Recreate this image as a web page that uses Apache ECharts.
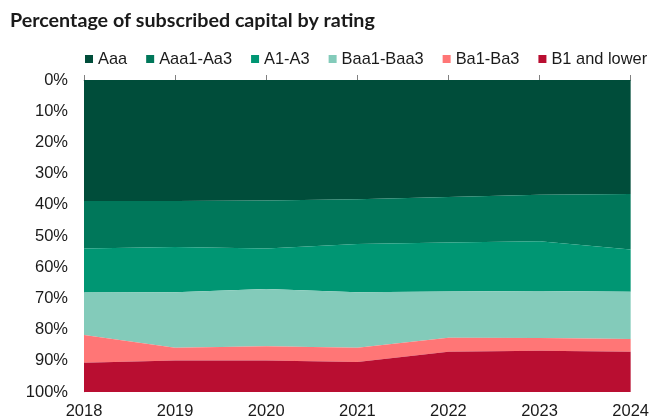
<!DOCTYPE html>
<html><head><meta charset="utf-8">
<script src="https://cdn.jsdelivr.net/npm/echarts@6/dist/echarts.min.js"></script>
<style>html,body{margin:0;padding:0;background:#fff}#c{width:652px;height:420px}</style>
</head><body><div id="c"></div>
<script>
const years = ['2018','2019','2020','2021','2022','2023','2024'];
const aaa = [38.8, 38.8, 38.6, 38.2, 37.5, 36.8, 36.5];
const aaa1 = [15.2, 14.7, 15.4, 14.4, 14.6, 14.9, 17.8];
const a1 = [14.1, 14.5, 13.0, 15.4, 15.7, 15.9, 13.6];
const baa = [13.6, 17.8, 18.3, 17.8, 14.8, 15.1, 15.1];
const ba = [8.9, 4.1, 4.6, 4.6, 4.5, 4.1, 4.1];
const b1 = [9.4, 10.1, 10.1, 9.6, 12.9, 13.2, 12.9];
const names = ['Aaa','Aaa1-Aa3','A1-A3','Baa1-Baa3','Ba1-Ba3','B1 and lower'];
const colors = ['#004d3a','#00775a','#009673','#83cbba','#ff7676','#b90e31'];
const datas = [aaa, aaa1, a1, baa, ba, b1];
const chart = echarts.init(document.getElementById('c'));
chart.setOption({
  animation:false,
  title:{text:'Percentage of subscribed capital by rating',left:10,top:10,padding:0,
    textStyle:{fontFamily:'Lato',fontSize:19.7,fontWeight:'bold',color:'#1a1a1a',lineHeight:22}},
  legend:{top:50,left:85,width:620,padding:0,itemWidth:8,itemHeight:8,itemGap:19,icon:'rect',
    textStyle:{fontFamily:'Liberation Sans',fontSize:16.4,lineHeight:18,color:'#1a1a1a',padding:[0,0,0,0]}},
  grid:{left:84,right:20,top:80,bottom:28},
  xAxis:[
    {type:'category',data:years,boundaryGap:false,position:'top',
     axisLine:{lineStyle:{color:'#a0a0a0'}},axisTick:{length:5,lineStyle:{color:'#808080'}},
     axisLabel:{show:false},splitLine:{show:false}},
    {type:'category',data:years,boundaryGap:false,position:'bottom',
     axisLine:{show:false},axisTick:{show:false},
     axisLabel:{fontFamily:'Liberation Sans',fontSize:16.5,color:'#1a1a1a',margin:11}}
  ],
  yAxis:{type:'value',inverse:true,min:0,max:100,interval:10,
    axisLine:{show:true,lineStyle:{color:'#d0d0d0'}},axisTick:{show:false},splitLine:{show:false},
    axisLabel:{formatter:'{value}%',fontFamily:'Liberation Sans',fontSize:16.5,color:'#1a1a1a',margin:16}},
  series: names.map((n,i)=>({name:n,type:'line',stack:'t',data:datas[i],xAxisIndex:0,
    symbol:'none',lineStyle:{width:0},areaStyle:{color:colors[i],opacity:1},itemStyle:{color:colors[i]}}))
});
</script></body></html>
